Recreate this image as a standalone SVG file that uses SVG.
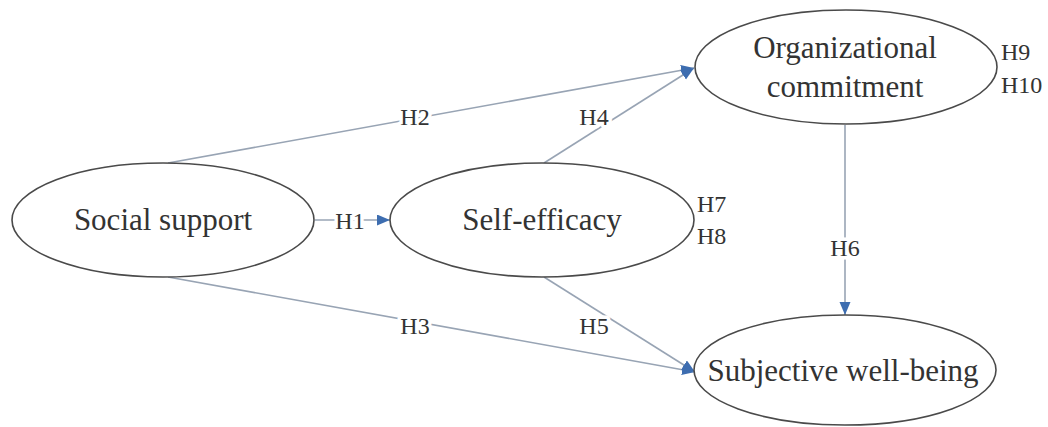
<svg xmlns="http://www.w3.org/2000/svg" width="1048" height="427" viewBox="0 0 1048 427">
<defs>
<style>
.node ellipse{fill:#fff;stroke:#4a4a4a;stroke-width:1.6}
.node text{font-family:"Liberation Serif","Times New Roman",serif;font-size:31px;fill:#333;text-anchor:middle}
.conn line{stroke:#98a4b4;stroke-width:1.6;fill:none}
.lbl{font-family:"Liberation Serif","Times New Roman",serif;font-size:24px;fill:#333;text-anchor:middle;paint-order:stroke;stroke:#fff;stroke-width:7px;stroke-linejoin:round}
.node text.side{font-size:24px;text-anchor:start}
</style>
<marker id="arr" markerUnits="userSpaceOnUse" markerWidth="14" markerHeight="12" refX="13" refY="5.5" orient="auto">
<path d="M0,0 L13,5.5 L0,11 z" fill="#3d6db0"/>
</marker>
</defs>
<rect width="1048" height="427" fill="#fff"/>
<g id="connectors" class="conn">
<line x1="168" y1="163" x2="694" y2="68" marker-end="url(#arr)"/>
<line x1="544" y1="163" x2="694" y2="68" marker-end="url(#arr)"/>
<line x1="315" y1="220" x2="390" y2="220" marker-end="url(#arr)"/>
<line x1="168" y1="277" x2="695" y2="372" marker-end="url(#arr)"/>
<line x1="544" y1="277" x2="695" y2="372" marker-end="url(#arr)"/>
<line x1="845" y1="125" x2="845" y2="315" marker-end="url(#arr)"/>
<text class="lbl" x="415" y="125">H2</text>
<text class="lbl" x="594" y="125">H4</text>
<text class="lbl" x="350" y="229">H1</text>
<text class="lbl" x="415" y="334">H3</text>
<text class="lbl" x="594" y="334">H5</text>
<text class="lbl" x="845" y="256">H6</text>
</g>
<g id="social-support" class="node">
<ellipse cx="163" cy="220" rx="151" ry="57"/>
<text x="163" y="230">Social support</text>
</g>
<g id="self-efficacy" class="node">
<ellipse cx="542" cy="220" rx="152" ry="57"/>
<text x="542" y="230">Self-efficacy</text>
<text class="side" x="697" y="212">H7</text>
<text class="side" x="697" y="244">H8</text>
</g>
<g id="organizational-commitment" class="node">
<ellipse cx="846" cy="67" rx="151" ry="57"/>
<text x="845" y="58">Organizational</text>
<text x="845" y="97">commitment</text>
<text class="side" x="1001" y="60">H9</text>
<text class="side" x="1001" y="93">H10</text>
</g>
<g id="subjective-well-being" class="node">
<ellipse cx="845" cy="370" rx="151" ry="55"/>
<text x="843" y="381">Subjective well-being</text>
</g>
</svg>
